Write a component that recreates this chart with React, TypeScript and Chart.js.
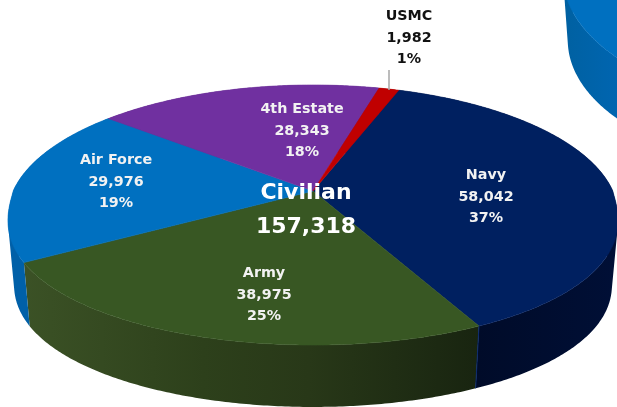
import React, { useEffect, useRef } from "react";
import { Chart, registerables } from "chart.js";

Chart.register(...registerables);

const categories = ["Navy", "Army", "Air Force", "4th Estate", "USMC"];
const civilianValues = [58042, 38975, 29976, 28343, 1982];
const percentLabels = ["37%", "25%", "19%", "18%", "1%"];
const countLabels = ["58,042", "38,975", "29,976", "28,343", "1,982"];
const topColors = ["#002060", "#385723", "#0070C0", "#7030A0", "#C00000"];
const centerTitle = "Civilian";
const centerTotal = "157,318";
const neighbourValues = [1];
const neighbourColors = ["#0070C0"];

const W = 617;
const H = 407;
const LABEL_CENTERS = [
  [486, 197],
  [264, 295],
  [116, 182],
  [302, 131],
  [409, 38],
];
const LABEL_COLORS = ["#F2F2F2", "#F2F2F2", "#F2F2F2", "#F2F2F2", "#111111"];

type View = {
  cx: number; cy: number; a: number; b: number; k: number;
  depth: number; floor: number; bulge: number;
  walls: (string | [number, string][])[];
};

const mainView: View = {
  cx: 313, cy: 191, a: 299.8, b: 125.6, k: 0.1846, depth: 65, floor: 0.98, bulge: 0.88,
  walls: [
    [[0.76, "#000B28"], [1, "#000F36"]],
    [[0, "#3D5427"], [0.33, "#2D401B"], [0.5, "#283818"], [0.78, "#182410"]],
    "#0060A8",
    "#4A1F6C",
    "#7F0000",
  ],
};
const neighbourView: View = {
  cx: 800, cy: -25, a: 237, b: 130, k: 0, depth: 65, floor: 0.98, bulge: 1,
  walls: [[[0.9, "#00609F"], [1, "#0065B0"]]],
};

function project(v: View, c: number, s: number, low: boolean): [number, number] {
  const w = 1 - v.k * s;
  const f = low ? v.floor : 1;
  const sy = s > 0 ? Math.pow(s, v.bulge) : s;
  return [
    v.cx + (f * v.a * c) / w,
    v.cy + (f * v.b * sy) / w + (low ? v.depth : 0),
  ];
}

function angles(from: number, to: number) {
  const n = Math.max(8, Math.ceil(Math.abs(to - from) / 0.01));
  const list: number[] = [];
  for (let i = 0; i <= n; i++) list.push(from + ((to - from) * i) / n);
  return list;
}

const pie3d = {
  id: "pie3d",
  beforeDatasetDraw(chart: any, _args: any, opts: any) {
    const v: View = opts.view;
    const ctx: CanvasRenderingContext2D = chart.ctx;
    const arcs = chart.getDatasetMeta(0).data;
    ctx.save();
    arcs.forEach((arc: any, i: number) => {
      const wall = v.walls[i];
      if (typeof wall === "string") {
        ctx.fillStyle = wall;
      } else {
        const g = ctx.createLinearGradient(0, 0, W, 0);
        wall.forEach(([p, c]) => g.addColorStop(p, c));
        ctx.fillStyle = g;
      }
      // the wall is the union of small quads, all wound the same way
      const ts = angles(arc.startAngle, arc.endAngle);
      ctx.beginPath();
      for (let j = 0; j < ts.length - 1; j++) {
        const c0 = Math.cos(ts[j]), s0 = Math.sin(ts[j]);
        const c1 = Math.cos(ts[j + 1]), s1 = Math.sin(ts[j + 1]);
        let q = [
          project(v, c0, s0, false),
          project(v, c1, s1, false),
          project(v, c1, s1, true),
          project(v, c0, s0, true),
        ];
        let area = 0;
        q.forEach((p, n) => {
          const r = q[(n + 1) % 4];
          area += p[0] * r[1] - r[0] * p[1];
        });
        if (area < 0) q = q.reverse();
        q.forEach(([x, y], n) => (n ? ctx.lineTo(x, y) : ctx.moveTo(x, y)));
        ctx.closePath();
      }
      ctx.fill("nonzero");
    });
    if (arcs.length > 1) {
      const a0 = arcs[0].endAngle;
      const p = project(v, Math.cos(a0), Math.sin(a0), false);
      const q = project(v, Math.cos(a0), Math.sin(a0), true);
      ctx.strokeStyle = "#0A2A70";
      ctx.lineWidth = 1;
      ctx.beginPath();
      ctx.moveTo(p[0], p[1]);
      ctx.lineTo(q[0], q[1]);
      ctx.stroke();
    }
    arcs.forEach((arc: any) => {
      const pts = angles(arc.startAngle, arc.endAngle).map((t) =>
        project(v, Math.cos(t), Math.sin(t), false)
      );
      ctx.fillStyle = arc.options.backgroundColor;
      ctx.strokeStyle = arc.options.backgroundColor;
      ctx.lineWidth = 0.6;
      ctx.beginPath();
      if (arcs.length > 1) ctx.moveTo(v.cx, v.cy);
      pts.forEach(([x, y], j) =>
        j || arcs.length > 1 ? ctx.lineTo(x, y) : ctx.moveTo(x, y)
      );
      ctx.closePath();
      ctx.fill();
      ctx.stroke();
    });
    ctx.restore();
    return false;
  },
};

const pieLabels = {
  id: "pieLabels",
  afterDatasetsDraw(chart: any) {
    const ctx: CanvasRenderingContext2D = chart.ctx;
    ctx.save();
    ctx.textAlign = "center";
    ctx.textBaseline = "middle";
    ctx.strokeStyle = "#A6A6A6";
    ctx.lineWidth = 1.5;
    ctx.beginPath();
    ctx.moveTo(389, 70);
    ctx.lineTo(389, 90);
    ctx.stroke();
    ctx.font = "bold 14.3px 'DejaVu Sans'";
    categories.forEach((name, i) => {
      const [x, y] = LABEL_CENTERS[i];
      ctx.fillStyle = LABEL_COLORS[i];
      ctx.fillText(name, x, y - 21.5);
      ctx.fillText(countLabels[i], x, y);
      ctx.fillText(percentLabels[i], x, y + 21.5);
    });
    ctx.fillStyle = "#FFFFFF";
    ctx.font = "bold 22px 'DejaVu Sans'";
    ctx.fillText(centerTitle, 306, 193);
    ctx.fillText(centerTotal, 306, 227);
    ctx.restore();
  },
};

function makePie(
  canvas: HTMLCanvasElement,
  labels: string[],
  values: number[],
  colors: string[],
  view: View,
  rotation: number,
  extra: any[]
) {
  return new Chart(canvas, {
    type: "pie",
    data: {
      labels,
      datasets: [{ data: values, backgroundColor: colors, borderWidth: 0 }],
    },
    options: {
      responsive: false,
      animation: false,
      rotation,
      plugins: {
        legend: { display: false },
        tooltip: { enabled: false },
        pie3d: { view },
      } as any,
    },
    plugins: [pie3d, ...extra],
  });
}

export default function App() {
  const backRef = useRef<HTMLCanvasElement>(null);
  const frontRef = useRef<HTMLCanvasElement>(null);
  useEffect(() => {
    const back = makePie(backRef.current!, ["Neighbouring chart"], neighbourValues, neighbourColors, neighbourView, 0, []);
    const front = makePie(frontRef.current!, categories, civilianValues, topColors, mainView, 19.6, [pieLabels]);
    return () => {
      back.destroy();
      front.destroy();
    };
  }, []);
  const style: React.CSSProperties = { position: "absolute", left: 0, top: 0, width: W, height: H };
  return (
    <div style={{ position: "fixed", left: 0, top: 0, width: W, height: H, background: "#FFFFFF", overflow: "hidden" }}>
      <canvas ref={backRef} width={W} height={H} style={style} />
      <canvas ref={frontRef} width={W} height={H} style={style} />
    </div>
  );
}
